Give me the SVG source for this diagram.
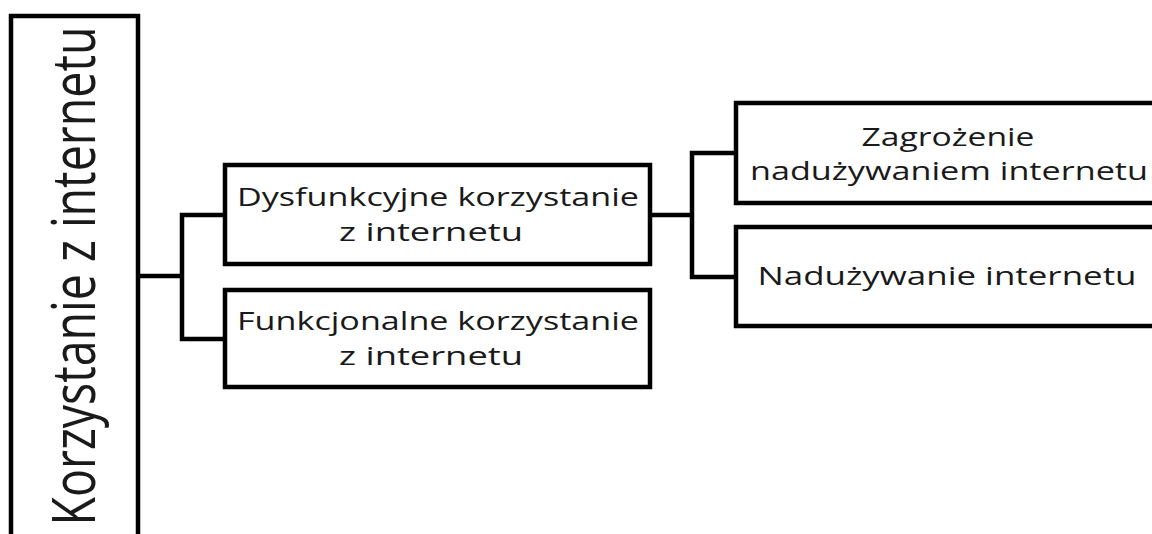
<svg xmlns="http://www.w3.org/2000/svg" width="1152" height="534" viewBox="0 0 1152 534">
<style>
.box{fill:#fff;stroke:#000;stroke-width:4.5}
.con{fill:none;stroke:#000;stroke-width:4.5}
.t{font-family:"Open Sans","Noto Sans","DejaVu Sans",sans-serif;font-size:26px;fill:#1a1a1a;text-anchor:middle}
.big{font-family:"Open Sans","Noto Sans","DejaVu Sans",sans-serif;font-size:47px;fill:#1a1a1a;text-anchor:middle}
</style>
<rect width="1152" height="534" fill="#fff"/>
<g id="connectors">
<path class="con" d="M138 276 H182 M225 215 H182 V339 H225"/>
<path class="con" d="M650 215 H692 M736 153 H692 V277 H736"/>
</g>
<g id="root">
<rect class="box" x="11" y="16" width="127" height="540"/>
<text class="big" transform="translate(95,276) rotate(-90) scale(1,1.3)" textLength="499" lengthAdjust="spacingAndGlyphs">Korzystanie z internetu</text>
</g>
<g id="dysfunkcyjne">
<rect class="box" x="225" y="165" width="425" height="99"/>
<text class="t" x="438" y="206" textLength="402" lengthAdjust="spacingAndGlyphs">Dysfunkcyjne korzystanie</text>
<text class="t" x="431" y="241" textLength="184" lengthAdjust="spacingAndGlyphs">z internetu</text>
</g>
<g id="funkcjonalne">
<rect class="box" x="225" y="290" width="425" height="97"/>
<text class="t" x="438" y="330" textLength="402" lengthAdjust="spacingAndGlyphs">Funkcjonalne korzystanie</text>
<text class="t" x="431" y="365" textLength="184" lengthAdjust="spacingAndGlyphs">z internetu</text>
</g>
<g id="zagrozenie">
<rect class="box" x="736" y="103" width="430" height="100"/>
<text class="t" x="948" y="146" textLength="173" lengthAdjust="spacingAndGlyphs">Zagrożenie</text>
<text class="t" x="949" y="180" textLength="398" lengthAdjust="spacingAndGlyphs">nadużywaniem internetu</text>
</g>
<g id="naduzywanie">
<rect class="box" x="736" y="227" width="430" height="99"/>
<text class="t" x="947" y="285" textLength="379" lengthAdjust="spacingAndGlyphs">Nadużywanie internetu</text>
</g>
</svg>
